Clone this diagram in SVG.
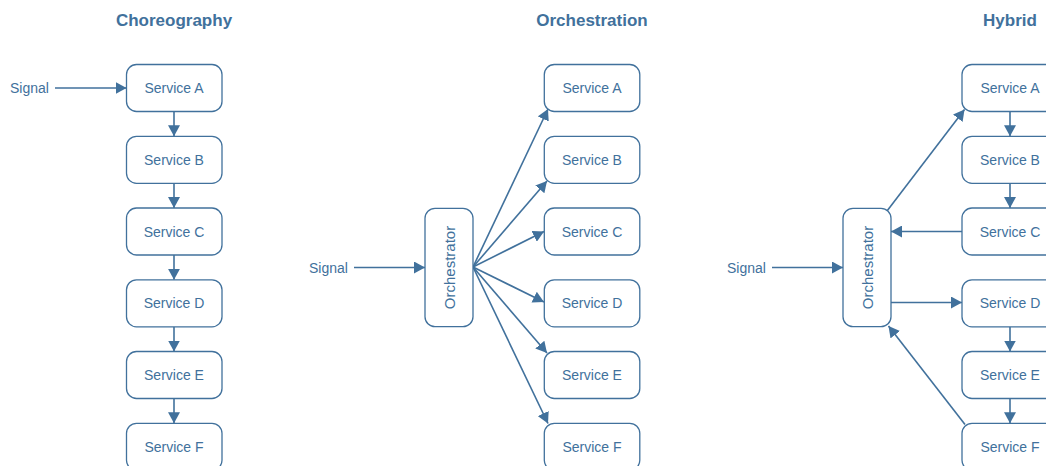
<svg xmlns="http://www.w3.org/2000/svg" width="1046" height="466" viewBox="0 0 1046 466">
<style>
.box{fill:#fff;stroke:#41719C;stroke-width:1.3}
.t{font-family:"Liberation Sans",Arial,sans-serif;font-size:14px;fill:#41719C;text-anchor:middle}
.s{font-family:"Liberation Sans",Arial,sans-serif;font-size:14px;fill:#41719C;text-anchor:start}
.h{font-family:"Liberation Sans",Arial,sans-serif;font-size:17px;font-weight:bold;fill:#41719C;text-anchor:middle}
.c{stroke:#41719C;stroke-width:1.6;fill:none;marker-end:url(#ah)}
</style>
<defs>
<marker id="ah" markerUnits="userSpaceOnUse" markerWidth="12" markerHeight="12" refX="11" refY="6" orient="auto">
<path d="M0,0 L11,6 L0,12 z" fill="#41719C"/>
</marker>
</defs>
<rect width="1046" height="466" fill="#fff"/>
<text class="h" x="174" y="26">Choreography</text>
<text class="h" x="592" y="26">Orchestration</text>
<text class="h" x="1010" y="26">Hybrid</text>
<text class="s" x="10" y="93">Signal</text>
<text class="s" x="309" y="273">Signal</text>
<text class="s" x="727" y="273">Signal</text>
<g id="connectors">
<line class="c" x1="55" y1="88" x2="126.5" y2="88"/>
<line class="c" x1="174" y1="111.5" x2="174" y2="136.3"/>
<line class="c" x1="174" y1="183.3" x2="174" y2="208"/>
<line class="c" x1="174" y1="255" x2="174" y2="279.8"/>
<line class="c" x1="174" y1="326.8" x2="174" y2="351.5"/>
<line class="c" x1="174" y1="398.5" x2="174" y2="423.3"/>
<line class="c" x1="354" y1="267.5" x2="425" y2="267.5"/>
<line class="c" x1="473" y1="267" x2="548" y2="109"/>
<line class="c" x1="473" y1="267" x2="547" y2="181"/>
<line class="c" x1="473" y1="267" x2="544" y2="231.5"/>
<line class="c" x1="473" y1="267" x2="544" y2="302"/>
<line class="c" x1="473" y1="267" x2="547" y2="353"/>
<line class="c" x1="473" y1="267" x2="548" y2="423.5"/>
<line class="c" x1="772" y1="267.5" x2="843" y2="267.5"/>
<line class="c" x1="887" y1="211" x2="964.5" y2="109.5"/>
<line class="c" x1="962" y1="231.5" x2="891" y2="231.5"/>
<line class="c" x1="891" y1="302.5" x2="962" y2="302.5"/>
<line class="c" x1="965" y1="424.5" x2="888.5" y2="326"/>
<line class="c" x1="1010" y1="111.5" x2="1010" y2="136.3"/>
<line class="c" x1="1010" y1="183.3" x2="1010" y2="208"/>
<line class="c" x1="1010" y1="326.8" x2="1010" y2="351.5"/>
<line class="c" x1="1010" y1="398.5" x2="1010" y2="423.3"/>
</g>
<g id="ch-a"><rect class="box" x="126.5" y="64.5" width="95.5" height="47" rx="10"/><text class="t" x="174" y="93">Service A</text></g>
<g id="ch-b"><rect class="box" x="126.5" y="136.3" width="95.5" height="47" rx="10"/><text class="t" x="174" y="164.8">Service B</text></g>
<g id="ch-c"><rect class="box" x="126.5" y="208" width="95.5" height="47" rx="10"/><text class="t" x="174" y="236.5">Service C</text></g>
<g id="ch-d"><rect class="box" x="126.5" y="279.8" width="95.5" height="47" rx="10"/><text class="t" x="174" y="308.3">Service D</text></g>
<g id="ch-e"><rect class="box" x="126.5" y="351.5" width="95.5" height="47" rx="10"/><text class="t" x="174" y="380">Service E</text></g>
<g id="ch-f"><rect class="box" x="126.5" y="423.3" width="95.5" height="47" rx="10"/><text class="t" x="174" y="451.8">Service F</text></g>
<g id="or-orch"><rect class="box" x="425" y="208.3" width="48" height="118.4" rx="10"/><text class="t" style="font-size:15px" transform="translate(454.5,267.5) rotate(-90)">Orchestrator</text></g>
<g id="or-a"><rect class="box" x="544.3" y="64.5" width="95.5" height="47" rx="10"/><text class="t" x="592" y="93">Service A</text></g>
<g id="or-b"><rect class="box" x="544.3" y="136.3" width="95.5" height="47" rx="10"/><text class="t" x="592" y="164.8">Service B</text></g>
<g id="or-c"><rect class="box" x="544.3" y="208" width="95.5" height="47" rx="10"/><text class="t" x="592" y="236.5">Service C</text></g>
<g id="or-d"><rect class="box" x="544.3" y="279.8" width="95.5" height="47" rx="10"/><text class="t" x="592" y="308.3">Service D</text></g>
<g id="or-e"><rect class="box" x="544.3" y="351.5" width="95.5" height="47" rx="10"/><text class="t" x="592" y="380">Service E</text></g>
<g id="or-f"><rect class="box" x="544.3" y="423.3" width="95.5" height="47" rx="10"/><text class="t" x="592" y="451.8">Service F</text></g>
<g id="hy-orch"><rect class="box" x="843" y="208.3" width="48" height="118.4" rx="10"/><text class="t" style="font-size:15px" transform="translate(872.5,267.5) rotate(-90)">Orchestrator</text></g>
<g id="hy-a"><rect class="box" x="962" y="64.5" width="95.5" height="47" rx="10"/><text class="t" x="1010" y="93">Service A</text></g>
<g id="hy-b"><rect class="box" x="962" y="136.3" width="95.5" height="47" rx="10"/><text class="t" x="1010" y="164.8">Service B</text></g>
<g id="hy-c"><rect class="box" x="962" y="208" width="95.5" height="47" rx="10"/><text class="t" x="1010" y="236.5">Service C</text></g>
<g id="hy-d"><rect class="box" x="962" y="279.8" width="95.5" height="47" rx="10"/><text class="t" x="1010" y="308.3">Service D</text></g>
<g id="hy-e"><rect class="box" x="962" y="351.5" width="95.5" height="47" rx="10"/><text class="t" x="1010" y="380">Service E</text></g>
<g id="hy-f"><rect class="box" x="962" y="423.3" width="95.5" height="47" rx="10"/><text class="t" x="1010" y="451.8">Service F</text></g>
</svg>
